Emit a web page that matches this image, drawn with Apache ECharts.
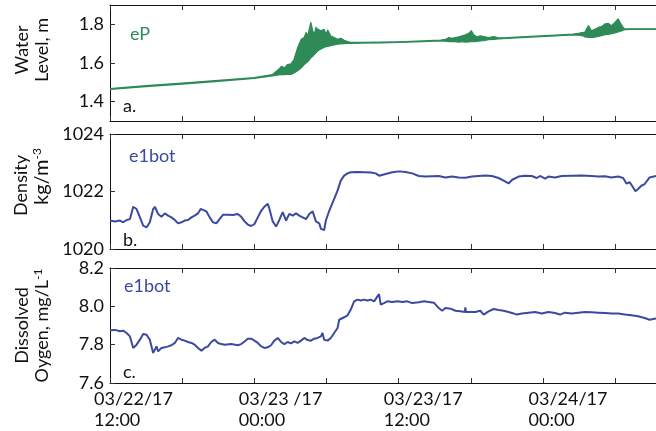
<!DOCTYPE html>
<html>
<head>
<meta charset="utf-8">
<script src="https://cdn.jsdelivr.net/npm/echarts@6/dist/echarts.min.js"></script>
<style>
  html, body { margin: 0; padding: 0; background: #fff; }
  #chart { width: 656px; height: 431px; }
</style>
</head>
<body>
<div id="chart"></div>
<script>
// Time is in hours after 03/22/17 12:00.
const labelHours = [0, 12, 24, 36];
const labelText = ['03/22/17\n12:00', '03/23 /17\n00:00', '03/23/17\n12:00', '03/24/17\n00:00'];

// Water level (m): lower and upper envelope of the high-frequency signal
const wlHours = [0, 3, 6, 9, 12, 13.5, 14.0, 14.25, 14.5, 14.75, 15.05, 15.3, 15.6, 15.9, 16.15, 16.3, 16.45, 16.57, 16.7, 16.85,
  17.0, 17.12, 17.26, 17.54, 17.8, 17.95, 18.1, 18.36, 18.64, 18.92, 19.2, 19.47, 19.75, 20.0, 21.0, 22.5, 24, 26, 27.5, 27.89,
  28.17, 28.44, 29.0, 29.27, 29.55, 29.83, 30.05, 30.24, 30.52, 30.79, 31.07, 31.48, 31.9, 32.31, 33, 35, 37, 38.5, 38.94, 39.35,
  39.49, 39.77, 40.04, 40.32, 40.6, 40.87, 41.15, 41.43, 41.7, 41.98, 42.25, 42.53, 42.67, 42.81, 43.36, 45.4];
const wlLow = [1.463, 1.478, 1.491, 1.505, 1.520, 1.533, 1.538, 1.540, 1.540, 1.541, 1.541, 1.549, 1.560, 1.575, 1.592, 1.600, 1.608, 1.615, 1.627, 1.635,
  1.645, 1.652, 1.662, 1.672, 1.680, 1.684, 1.686, 1.690, 1.694, 1.697, 1.699, 1.700, 1.701, 1.702, 1.703, 1.704, 1.706, 1.710, 1.714, 1.713,
  1.711, 1.712, 1.708, 1.710, 1.708, 1.709, 1.710, 1.711, 1.712, 1.714, 1.716, 1.721, 1.722, 1.725, 1.727, 1.734, 1.740, 1.745, 1.744, 1.740,
  1.735, 1.733, 1.732, 1.734, 1.737, 1.741, 1.746, 1.748, 1.752, 1.756, 1.761, 1.766, 1.770, 1.772, 1.774, 1.774];
const wlHigh = [1.468, 1.483, 1.496, 1.510, 1.525, 1.540, 1.566, 1.583, 1.575, 1.592, 1.596, 1.618, 1.679, 1.723, 1.732, 1.758, 1.740, 1.775, 1.810, 1.767,
  1.749, 1.784, 1.775, 1.767, 1.775, 1.749, 1.770, 1.740, 1.732, 1.723, 1.728, 1.718, 1.711, 1.707, 1.707, 1.708, 1.710, 1.714, 1.719, 1.722,
  1.732, 1.728, 1.735, 1.740, 1.746, 1.753, 1.767, 1.746, 1.735, 1.740, 1.737, 1.732, 1.737, 1.730, 1.731, 1.738, 1.744, 1.750, 1.753, 1.758,
  1.760, 1.793, 1.767, 1.775, 1.784, 1.788, 1.802, 1.805, 1.793, 1.810, 1.828, 1.798, 1.784, 1.776, 1.777, 1.777];

// Density (kg/m^3), e1bot
const densHours = [0, 0.41, 0.83, 1.10, 1.38, 1.66, 1.93, 2.21, 2.49, 2.76, 3.04, 3.31, 3.59, 3.73, 4.00, 4.28, 4.56, 4.83, 5.11, 5.39,
  5.66, 5.94, 6.21, 6.49, 6.77, 7.04, 7.32, 7.54, 7.73, 8.01, 8.29, 8.56, 8.84, 9.11, 9.39, 9.80, 10.22, 10.63, 10.91, 11.19,
  11.46, 11.74, 12.01, 12.29, 12.57, 12.84, 13.12, 13.26, 13.53, 13.81, 14.08, 14.36, 14.64, 14.91, 15.19, 15.47, 15.74, 16.02, 16.30, 16.57,
  16.85, 17.12, 17.40, 17.54, 17.67, 17.81, 17.95, 18.23, 18.64, 18.92, 19.19, 19.47, 19.75, 20.02, 20.57, 21.13, 21.68, 22.09, 22.37, 22.92,
  23.47, 24.03, 24.58, 25.13, 25.68, 26.24, 26.79, 27.34, 27.89, 28.45, 29.0, 29.55, 30.10, 30.65, 31.21, 31.76, 32.31, 32.73, 33.14, 33.42,
  33.97, 34.52, 35.07, 35.49, 35.76, 36.18, 36.45, 37.0, 37.56, 38.39, 39.21, 40.04, 40.60, 41.15, 41.70, 42.25, 42.67, 42.94, 43.22, 43.50,
  43.69, 43.91, 44.18, 44.46, 44.87, 45.4];
const density = [1020.99, 1020.96, 1020.99, 1020.93, 1021.01, 1021.04, 1021.47, 1021.39, 1021.10, 1020.81, 1020.75, 1020.93, 1021.39, 1021.47, 1021.22, 1021.12, 1021.24, 1021.16, 1021.10, 1021.01,
  1020.89, 1020.93, 1020.99, 1021.01, 1021.10, 1021.16, 1021.24, 1021.39, 1021.36, 1021.31, 1021.10, 1020.93, 1020.89, 1021.04, 1021.19, 1021.19, 1021.18, 1021.22, 1021.12, 1020.96,
  1020.85, 1020.80, 1020.87, 1021.10, 1021.33, 1021.47, 1021.57, 1021.39, 1020.96, 1020.78, 1021.01, 1021.28, 1020.99, 1021.22, 1021.16, 1021.24, 1021.16, 1021.10, 1021.04, 1021.22,
  1021.31, 1020.96, 1020.89, 1020.70, 1020.75, 1020.66, 1020.99, 1021.33, 1021.74, 1022.03, 1022.38, 1022.55, 1022.63, 1022.67, 1022.68, 1022.67, 1022.66, 1022.63, 1022.55, 1022.61,
  1022.67, 1022.70, 1022.68, 1022.63, 1022.54, 1022.52, 1022.53, 1022.54, 1022.49, 1022.52, 1022.49, 1022.48, 1022.52, 1022.54, 1022.56, 1022.54, 1022.47, 1022.38, 1022.28, 1022.40,
  1022.52, 1022.55, 1022.54, 1022.47, 1022.54, 1022.45, 1022.52, 1022.49, 1022.54, 1022.55, 1022.56, 1022.54, 1022.52, 1022.53, 1022.49, 1022.52, 1022.47, 1022.28, 1022.32, 1022.14,
  1022.01, 1022.09, 1022.20, 1022.26, 1022.49, 1022.54];

// Dissolved oxygen (mg/L), e1bot
const doHours = [0, 0.41, 0.83, 1.10, 1.38, 1.66, 1.80, 1.93, 2.21, 2.49, 2.76, 3.04, 3.31, 3.59, 3.73, 3.87, 4.00, 4.28, 4.56, 4.83,
  5.11, 5.39, 5.66, 5.94, 6.21, 6.49, 6.77, 7.04, 7.32, 7.60, 7.87, 8.15, 8.42, 8.70, 8.98, 9.25, 9.53, 10.08, 10.63, 10.91,
  11.19, 11.46, 11.74, 12.01, 12.29, 12.57, 12.84, 13.12, 13.39, 13.67, 13.95, 14.22, 14.50, 14.77, 15.05, 15.33, 15.60, 15.88, 16.16, 16.43,
  16.71, 16.98, 17.26, 17.54, 17.67, 17.81, 18.09, 18.36, 18.64, 18.92, 19.06, 19.19, 19.47, 19.75, 20.02, 20.30, 20.57, 20.85, 21.13, 21.40,
  21.68, 21.96, 22.24, 22.37, 22.51, 22.78, 23.06, 23.47, 23.89, 24.30, 24.72, 25.13, 25.68, 26.10, 26.51, 26.93, 27.34, 27.62, 27.89, 28.31,
  28.72, 29.14, 29.50, 29.55, 29.60, 29.96, 30.38, 30.79, 31.07, 31.48, 31.90, 32.31, 32.73, 33.14, 33.55, 33.83, 34.25, 34.80, 35.35, 35.90,
  36.45, 37.0, 37.42, 37.83, 38.39, 38.94, 39.49, 40.04, 40.60, 41.15, 41.70, 42.25, 42.81, 43.36, 43.91, 44.46, 44.87, 45.4];
const oxygen = [7.875, 7.877, 7.870, 7.873, 7.861, 7.843, 7.835, 7.783, 7.800, 7.826, 7.856, 7.852, 7.826, 7.757, 7.774, 7.791, 7.765, 7.783, 7.786, 7.791,
  7.797, 7.809, 7.835, 7.826, 7.821, 7.814, 7.809, 7.800, 7.783, 7.769, 7.783, 7.791, 7.814, 7.826, 7.809, 7.803, 7.800, 7.803, 7.797, 7.803,
  7.817, 7.831, 7.831, 7.821, 7.809, 7.791, 7.783, 7.786, 7.797, 7.821, 7.835, 7.814, 7.803, 7.814, 7.807, 7.817, 7.809, 7.821, 7.835, 7.824,
  7.821, 7.831, 7.835, 7.843, 7.861, 7.826, 7.821, 7.835, 7.861, 7.887, 7.930, 7.939, 7.943, 7.953, 7.983, 8.026, 8.035, 8.030, 8.035, 8.030,
  8.035, 8.026, 8.052, 8.064, 8.009, 8.017, 8.026, 8.023, 8.026, 8.023, 8.026, 8.017, 8.021, 8.026, 8.023, 8.019, 7.991, 7.977, 7.991, 7.988,
  7.977, 7.974, 7.970, 7.995, 7.970, 7.970, 7.970, 7.977, 7.957, 7.974, 7.986, 7.981, 7.977, 7.970, 7.963, 7.957, 7.963, 7.967, 7.970, 7.963,
  7.970, 7.965, 7.957, 7.967, 7.963, 7.967, 7.970, 7.969, 7.967, 7.965, 7.963, 7.963, 7.957, 7.953, 7.948, 7.939, 7.930, 7.936];

const FONT = 'Lato';
const GREEN = '#2e8b57';
const BLUE = '#3a4a9f';
const INK = '#111';
const X_MAX = 45.4;

const pairs = (xs, ys) => xs.map((x, i) => [x, ys[i]]);

function frameX(gridIndex, position) {
  return {
    type: 'value', gridIndex, position, min: 0, max: X_MAX, interval: 6,
    axisLine: { show: true, onZero: false, lineStyle: { color: INK, width: 1 } },
    axisTick: { show: true, inside: true, length: 5, lineStyle: { color: '#333' } },
    axisLabel: { show: false },
    splitLine: { show: false }
  };
}

function panelY(gridIndex, cfg) {
  const labelStyle = { fontFamily: FONT, fontSize: 18, color: INK, margin: 6 };
  const y = {
    type: 'value', gridIndex, min: cfg.min, max: cfg.max,
    axisLine: { show: true, lineStyle: { color: INK, width: 1 } },
    axisTick: { show: true, inside: true, length: 5, lineStyle: { color: '#333' } },
    axisLabel: Object.assign({ formatter: cfg.fmt }, labelStyle),
    splitLine: { show: false },
    name: cfg.name, nameLocation: 'middle', nameRotate: 90, nameGap: cfg.gap,
    nameTextStyle: {
      fontFamily: FONT, fontSize: 18, lineHeight: 20, color: INK, padding: cfg.pad,
      rich: {
        t: { fontFamily: FONT, fontSize: 18, lineHeight: 20, color: INK },
        d: { fontFamily: FONT, fontSize: 18, lineHeight: 20, color: INK, padding: [0, 18, 0, 0] },
        u: { fontFamily: FONT, fontSize: 20, lineHeight: 20, color: INK },
        s: { fontFamily: FONT, fontSize: 12, lineHeight: 12, verticalAlign: 'top', color: INK }
      }
    }
  };
  if (cfg.ticks) {
    y.axisTick.customValues = cfg.ticks;
    y.axisLabel.customValues = cfg.ticks;
  } else {
    y.interval = cfg.interval;
  }
  return y;
}

// Filled band between the lower and upper envelope of the water level
function renderBand(params, api) {
  if (params.dataIndex !== 0) return null;
  const upper = wlHours.map((h, i) => api.coord([h, wlHigh[i]]));
  const lower = wlHours.map((h, i) => api.coord([h, wlLow[i]])).reverse();
  return {
    type: 'polygon',
    shape: { points: upper.concat(lower) },
    style: { fill: GREEN, stroke: GREEN, lineWidth: 1.2, lineJoin: 'round' }
  };
}

const chart = echarts.init(document.getElementById('chart'), null, { renderer: 'canvas' });

chart.setOption({
  animation: false,
  backgroundColor: '#fff',
  grid: [
    { left: 110, top: 5, width: 548, height: 116 },
    { left: 110, top: 134, width: 548, height: 115 },
    { left: 110, top: 268, width: 548, height: 115 },
    { left: 94, top: 268, width: 548, height: 115 }
  ],
  xAxis: [
    frameX(0, 'bottom'), frameX(0, 'top'),
    frameX(1, 'bottom'), frameX(1, 'top'),
    frameX(2, 'bottom'), frameX(2, 'top'),
    {
      type: 'value', gridIndex: 3, min: 0, max: X_MAX, interval: 12,
      axisLine: { show: false }, axisTick: { show: false }, splitLine: { show: false },
      axisLabel: {
        show: true, align: 'left', margin: 7, fontFamily: FONT, fontSize: 18, lineHeight: 21, color: INK,
        formatter: v => { const i = labelHours.indexOf(v); return i >= 0 ? labelText[i] : ''; }
      }
    }
  ],
  yAxis: [
    panelY(0, { min: 1.3, max: 1.9, ticks: [1.4, 1.6, 1.8], fmt: v => v.toFixed(1),
      name: 'Water\nLevel, m', gap: 58, pad: [0, 0, 0, 26] }),
    panelY(1, { min: 1020, max: 1024, interval: 2, fmt: v => String(v),
      name: '{d|Density}\n{u|kg/m}{s|-3}', gap: 58, pad: [0, 0, 0, 30] }),
    panelY(2, { min: 7.6, max: 8.2, interval: 0.2, fmt: v => v.toFixed(1),
      name: '{t|Dissolved}\n{t|Oygen, mg/L}{s|-1}', gap: 58, pad: [0, 0, 0, 0] }),
    { type: 'value', gridIndex: 3, show: false }
  ],
  series: [
    {
      type: 'custom', xAxisIndex: 0, yAxisIndex: 0, clip: true,
      data: wlHours.map((h, i) => [h, wlLow[i], wlHigh[i]]),
      encode: { x: 0, y: [1, 2] },
      renderItem: renderBand
    },
    {
      type: 'line', xAxisIndex: 2, yAxisIndex: 1, symbol: 'none',
      data: pairs(densHours, density), lineStyle: { color: BLUE, width: 2 }
    },
    {
      type: 'line', xAxisIndex: 4, yAxisIndex: 2, symbol: 'none',
      data: pairs(doHours, oxygen), lineStyle: { color: BLUE, width: 2 }
    }
  ],
  graphic: [
    { type: 'text', z: 50, x: 130, y: 25, style: { text: 'eP', fill: GREEN, font: '18px Lato' } },
    { type: 'text', z: 50, x: 129, y: 147, style: { text: 'e1bot', fill: BLUE, font: '18px Lato' } },
    { type: 'text', z: 50, x: 124, y: 277, style: { text: 'e1bot', fill: BLUE, font: '18px Lato' } },
    { type: 'text', z: 50, x: 123, y: 97, style: { text: 'a.', fill: INK, font: '18px Lato' } },
    { type: 'text', z: 50, x: 123, y: 231, style: { text: 'b.', fill: INK, font: '18px Lato' } },
    { type: 'text', z: 50, x: 123, y: 363, style: { text: 'c.', fill: INK, font: '18px Lato' } }
  ]
});
</script>
</body>
</html>
